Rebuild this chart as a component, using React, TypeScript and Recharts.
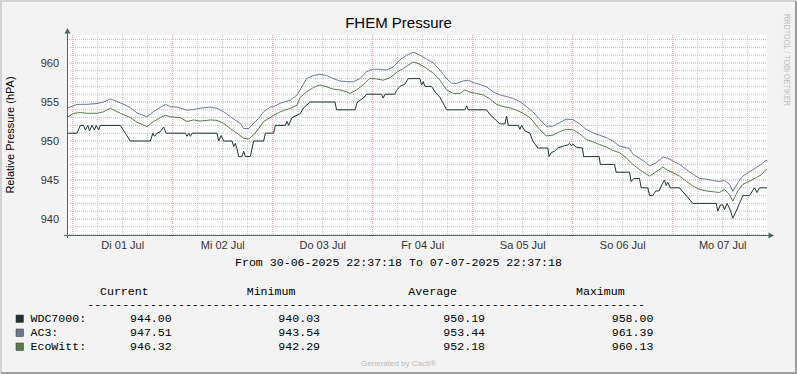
import React from 'react';
import { LineChart, Line, XAxis, YAxis, CartesianGrid } from 'recharts';

// ---- data (hours since 30-06-2025 22:37:18) ----
const wdcHours = [0, 2.4, 3.2, 4.0, 4.4, 5.0, 5.4, 6.0, 6.6, 7.0, 7.6, 8.0, 12.8, 14.0, 15.2, 20.0, 20.6, 21.0, 21.6, 22.4, 23.2, 23.8, 28.4, 28.8, 29.2, 29.6, 30.0, 36.0, 36.4, 37.0, 37.6, 39.6, 40.0, 40.4, 40.8, 41.2, 42.0, 42.4, 42.8, 44.0, 44.8, 47.2, 47.6, 49.6, 50.0, 52.4, 52.8, 53.2, 54.0, 56.0, 56.7, 58.3, 64.3, 64.7, 69.1, 69.7, 71.1, 71.9, 75.5, 75.9, 76.3, 78.7, 79.1, 79.9, 81.1, 81.9, 84.7, 85.1, 85.5, 85.9, 87.5, 88.3, 89.5, 91.1, 95.5, 95.9, 96.3, 100.7, 101.5, 102.7, 103.9, 105.1, 105.5, 105.9, 108.3, 108.7, 109.1, 109.9, 111.1, 111.8, 113.0, 115.4, 115.7, 116.2, 117.0, 117.8, 119.4, 120.2, 120.6, 121.0, 121.4, 122.2, 123.7, 124.0, 127.7, 128.0, 131.4, 131.8, 135.0, 135.4, 136.0, 137.4, 137.8, 139.4, 139.8, 140.6, 141.3, 142.1, 142.6, 143.4, 143.8, 144.2, 144.8, 147.0, 148.6, 150.2, 155.8, 156.2, 156.8, 157.4, 157.8, 158.4, 159.0, 159.8, 160.6, 161.4, 162.2, 163.8, 165.0, 165.6, 166.2, 168];
const wdcValues = [951, 951, 952, 952, 951.4, 952, 951.3, 952, 951.4, 952, 951.4, 952, 952, 951, 950, 950, 951, 950.6, 951, 951.2, 951.8, 951, 951, 950.6, 951, 950.6, 951, 951, 950, 950.7, 950, 950, 949.3, 949.7, 949, 948, 948, 948.7, 948, 948, 950, 950, 951, 951, 952, 952, 952.5, 952, 953, 953.5, 954.2, 955, 955, 954, 954, 955, 955.5, 956, 956, 955.5, 956, 956, 956.5, 957, 957.3, 958, 958, 957.2, 957.6, 957, 957, 956.3, 955.6, 954, 954, 954.5, 954, 954, 953.4, 952.8, 952.2, 952.2, 953.2, 952, 952, 951.5, 952, 951.3, 951, 950, 949.1, 949.1, 948, 948.5, 948.7, 949.1, 949.4, 949.5, 949.7, 949.4, 949.6, 949.2, 949.1, 948, 948, 947, 947, 946, 946, 944.8, 945.2, 945.2, 944, 944, 943, 943, 943.6, 943.6, 944.2, 945, 944.3, 944.7, 944, 944, 943, 942, 942, 941, 941.8, 941.8, 941.2, 942, 941.4, 940.1, 941, 942, 943, 943, 944, 943.4, 944, 944];

const ac3Hours = [0, 2.4, 4.8, 7.2, 8.8, 10.4, 12.8, 15.2, 16.8, 19.2, 20.8, 22.4, 23.6, 24.8, 26.4, 28.8, 30.4, 32, 34.4, 36, 37.6, 39.2, 41.6, 42.4, 43.6, 44.4, 46, 47.2, 48.8, 49.6, 51.2, 53.6, 55.2, 56.4, 57.5, 59.1, 60.7, 62.3, 63.9, 65.5, 67.1, 68.7, 70.3, 71.9, 73.5, 75.1, 76.7, 78.3, 79.9, 81.5, 83.1, 84.7, 86.3, 87.9, 89.5, 91.1, 92.3, 93.5, 95.1, 96.3, 97.5, 99.1, 100.7, 102.3, 103.9, 105.5, 107.1, 108.7, 110.3, 111.8, 113.4, 115.0, 116.6, 118.2, 119.8, 121.4, 123.0, 124.6, 126.2, 127.8, 129.4, 131.0, 132.6, 134.2, 135.0, 135.8, 137.4, 139.0, 139.8, 141.4, 143.0, 144.2, 145.4, 147.0, 148.6, 150.2, 151.8, 153.4, 155.0, 156.6, 157.8, 159.0, 159.8, 161.0, 162.2, 163.8, 165.4, 166.6, 167.7, 168];
const ac3Values = [954.2, 954.7, 954.7, 954.8, 955.0, 955.4, 954.9, 954.3, 953.6, 953.1, 953.8, 954.3, 954.7, 954.4, 954.35, 953.95, 954.05, 954.2, 954.35, 954.2, 953.75, 953.1, 952.25, 951.6, 951.6, 952.05, 952.9, 953.75, 954.35, 954.4, 954.85, 955.25, 955.9, 957.0, 958.0, 958.4, 958.55, 958.4, 958.0, 957.7, 957.6, 957.6, 958.0, 958.9, 959.2, 959.2, 959.1, 959.5, 960.4, 961.0, 961.39, 961.0, 960.5, 960.0, 959.1, 958.0, 957.4, 957.4, 957.7, 957.8, 957.5, 957.25, 956.95, 956.3, 955.9, 955.7, 955.45, 955.05, 954.4, 953.75, 952.8, 951.9, 951.9, 952.35, 952.8, 952.75, 952.2, 951.5, 951.05, 950.75, 950.45, 950.0, 949.35, 949.15, 949.05, 948.3, 947.8, 947.2, 946.8, 947.2, 947.95, 947.8, 947.45, 947.0, 946.35, 945.75, 945.2, 945.1, 944.95, 944.8, 944.95, 944.45, 943.55, 944.65, 945.5, 946.05, 946.6, 947.0, 947.5, 947.51];

const ecoHours = [0, 1.6, 3.2, 4.8, 7.2, 8.8, 10.4, 12.8, 15.2, 16.8, 19.2, 20.8, 22.4, 23.6, 24.8, 27.2, 28.8, 30.4, 32, 34.4, 36, 37.6, 39.2, 40.8, 42.4, 43.6, 44.8, 46, 47.2, 48.8, 49.6, 51.2, 53.6, 55.2, 55.9, 57.5, 59.1, 60.7, 62.3, 63.9, 65.5, 67.1, 67.9, 69.5, 71.1, 72.7, 74.3, 75.9, 77.5, 79.1, 80.7, 83.1, 84.7, 86.3, 87.9, 89.5, 91.1, 92.7, 94.3, 95.5, 96.7, 98.3, 99.9, 101.5, 103.1, 104.7, 106.3, 107.9, 109.5, 111.1, 111.8, 113.4, 115.0, 116.6, 118.2, 119.8, 121.4, 123.0, 124.6, 126.2, 127.8, 129.4, 131.0, 132.6, 134.2, 135.8, 137.4, 139.0, 139.8, 141.4, 143.0, 144.2, 145.4, 147.0, 148.6, 150.2, 151.8, 153.4, 155.0, 156.6, 157.8, 159.0, 159.8, 161.0, 162.2, 163.8, 165.4, 166.6, 167.7, 168];
const ecoValues = [953.0, 953.55, 953.65, 953.55, 953.55, 953.75, 954.2, 953.55, 953.0, 952.4, 951.85, 952.5, 953.0, 953.3, 953.1, 953.0, 952.5, 952.7, 952.55, 952.7, 952.65, 952.25, 951.6, 951.0, 950.35, 950.25, 950.8, 951.6, 952.5, 953.0, 953.3, 953.75, 954.2, 954.6, 955.55, 956.3, 956.85, 957.2, 956.95, 956.65, 956.55, 956.3, 956.1, 956.55, 957.2, 958.05, 957.95, 957.8, 958.1, 958.8, 959.3, 960.13, 959.85, 959.3, 958.7, 957.8, 956.55, 956.1, 956.1, 956.55, 956.25, 956.1, 955.9, 955.4, 954.7, 954.4, 954.25, 953.95, 953.55, 953.0, 952.55, 951.5, 950.65, 950.75, 951.2, 951.5, 951.45, 950.95, 950.2, 949.9, 949.55, 949.25, 948.8, 948.5, 947.85, 947.0, 946.35, 945.75, 945.5, 946.05, 946.65, 946.25, 945.95, 945.5, 944.85, 944.25, 943.8, 943.6, 943.5, 943.4, 943.8, 943.15, 942.3, 943.6, 944.45, 944.85, 945.3, 945.65, 946.3, 946.32];

const dayLabels = ['Di 01 Jul', 'Mi 02 Jul', 'Do 03 Jul', 'Fr 04 Jul', 'Sa 05 Jul', 'So 06 Jul', 'Mo 07 Jul'];
const labelHours = [13.378, 37.378, 61.378, 85.378, 109.378, 133.378, 157.378];
const yTicks = [940, 945, 950, 955, 960];

const seriesNames = ['WDC7000:', 'AC3:', 'EcoWitt:'];
const seriesColors = ['#1f3434', '#6b7891', '#5b7a49'];
const statCurrent = ['944.00', '947.51', '946.32'];
const statMinimum = ['940.03', '943.54', '942.29'];
const statAverage = ['950.19', '953.44', '952.18'];
const statMaximum = ['958.00', '961.39', '960.13'];

// ---- grid positions ----
const firstMidnight = 1.378;
const majorX: number[] = [];
const minorX: number[] = [];
for (let k = 0; k < 28; k++) {
  const h = firstMidnight + 6 * k;
  if (h > 168) break;
  if (k % 4 === 0) majorX.push(h); else minorX.push(h);
}
const majorY = [940, 945, 950, 955, 960];
const minorY: number[] = [];
for (let v = 938; v <= 963; v++) if (v % 5 !== 0) minorY.push(v);

const Y_MIN = 937.95;
const Y_MAX = 963.59;

const rows = (hs: number[], vs: number[]) => hs.map((h, i) => ({ h, v: vs[i] }));
const wdcData = rows(wdcHours, wdcValues);
const ac3Data = rows(ac3Hours, ac3Values);
const ecoData = rows(ecoHours, ecoValues);

const SANS = '"Liberation Sans", Arial, sans-serif';
const MONO = '"Liberation Mono", "Courier New", monospace';

export default function App() {
  const rowBase = [322, 336, 350];
  return (
    <div style={{ position: 'absolute', left: 0, top: 0, width: 797, height: 374, background: '#f3f3f3', fontFamily: SANS }}>
      <LineChart width={797} height={374} margin={{ top: 35, right: 30, bottom: 109, left: 27 }}>
        <CartesianGrid fill="#ffffff" stroke="#c6c6c6" strokeDasharray="1 1" horizontalValues={minorY} verticalValues={minorX} />
        <CartesianGrid fill="none" stroke="#ec9a9a" strokeDasharray="1 1" horizontalValues={majorY} verticalValues={majorX} />
        <XAxis
          dataKey="h"
          type="number"
          domain={[0, 168]}
          allowDataOverflow
          ticks={labelHours}
          interval={0}
          tickFormatter={(_v: number, i: number) => dayLabels[i]}
          axisLine={false}
          tickLine={false}
          tickSize={0}
          tickMargin={6}
          height={30}
          tick={{ fontSize: 11, fill: '#333', fontFamily: SANS }}
        />
        <YAxis
          type="number"
          domain={[Y_MIN, Y_MAX]}
          allowDataOverflow
          ticks={yTicks}
          interval={0}
          width={40}
          axisLine={false}
          tickLine={false}
          tickSize={0}
          tickMargin={8}
          tick={{ fontSize: 11, fill: '#333', fontFamily: SANS }}
        />
        <Line data={wdcData} dataKey="v" type="linear" stroke={seriesColors[0]} strokeWidth={1} dot={false} activeDot={false} isAnimationActive={false} />
        <Line data={ac3Data} dataKey="v" type="linear" stroke={seriesColors[1]} strokeWidth={1} dot={false} activeDot={false} isAnimationActive={false} />
        <Line data={ecoData} dataKey="v" type="linear" stroke={seriesColors[2]} strokeWidth={1} dot={false} activeDot={false} isAnimationActive={false} />
      </LineChart>
      <svg width={797} height={374} style={{ position: 'absolute', left: 0, top: 0, pointerEvents: 'none' }}>
        {/* frame */}
        <path d="M1 373 L1 1 L796 1" stroke="#d2d2d2" strokeWidth={2} fill="none" />
        <path d="M1 373 L796 373 L796 1" stroke="#9e9e9e" strokeWidth={2} fill="none" />
        {/* axes with arrows */}
        <line x1={67.5} y1={238} x2={67.5} y2={33} stroke="#4a6b5c" strokeWidth={1} />
        <polygon points="64.5,33.5 70.5,33.5 67.5,28" fill="#4a6b5c" />
        <line x1={64} y1={235.5} x2={769} y2={235.5} stroke="#4a6b5c" strokeWidth={1} />
        <polygon points="768.5,232.5 768.5,238.5 774,235.5" fill="#4a6b5c" />
        {/* title */}
        <text x={398.5} y={27.5} textAnchor="middle" fontSize={15} fontFamily={SANS} fill="#000">FHEM Pressure</text>
        {/* y label */}
        <text x={10} y={135} transform="rotate(-90 10 135)" textAnchor="middle" dominantBaseline="central" fontSize={11} fontFamily={SANS} fill="#000">Relative Pressure (hPA)</text>
        {/* watermark */}
        <text x={786.5} y={60} transform="rotate(90 786.5 60)" textAnchor="middle" dominantBaseline="central" fontSize={8.5} fontFamily={SANS} fill="#bdbdbd" textLength={92} lengthAdjust="spacingAndGlyphs">RRDTOOL / TOBI OETIKER</text>
        {/* time range */}
        <text x={398.5} y={265.5} textAnchor="middle" fontSize={11.6} fontFamily={MONO} fill="#000">From 30-06-2025 22:37:18 To 07-07-2025 22:37:18</text>
        {/* stats header */}
        <text x={100} y={294.5} fontSize={11.6} fontFamily={MONO} fill="#000">Current</text>
        <text x={246.7} y={294.5} fontSize={11.6} fontFamily={MONO} fill="#000">Minimum</text>
        <text x={408.3} y={294.5} fontSize={11.6} fontFamily={MONO} fill="#000">Average</text>
        <text x={576} y={294.5} fontSize={11.6} fontFamily={MONO} fill="#000">Maximum</text>
        <text x={87.3} y={308} fontSize={11.6} fontFamily={MONO} fill="#000" textLength={557.7} lengthAdjust="spacing">{'-'.repeat(80)}</text>
        {seriesNames.map((name, i) => (
          <g key={name}>
            <rect x={16} y={rowBase[i] - 7} width={7.5} height={7.5} fill={seriesColors[i]} stroke="#333" strokeWidth={0.5} />
            <text x={30.5} y={rowBase[i]} fontSize={11.6} fontFamily={MONO} fill="#000">{name}</text>
            <text x={130} y={rowBase[i]} fontSize={11.6} fontFamily={MONO} fill="#000">{statCurrent[i]}</text>
            <text x={278.3} y={rowBase[i]} fontSize={11.6} fontFamily={MONO} fill="#000">{statMinimum[i]}</text>
            <text x={443.3} y={rowBase[i]} fontSize={11.6} fontFamily={MONO} fill="#000">{statAverage[i]}</text>
            <text x={611.7} y={rowBase[i]} fontSize={11.6} fontFamily={MONO} fill="#000">{statMaximum[i]}</text>
          </g>
        ))}
        <text x={398.5} y={366} textAnchor="middle" fontSize={8} fontFamily={SANS} fill="#b8b8b8">Generated by Cacti®</text>
      </svg>
    </div>
  );
}
